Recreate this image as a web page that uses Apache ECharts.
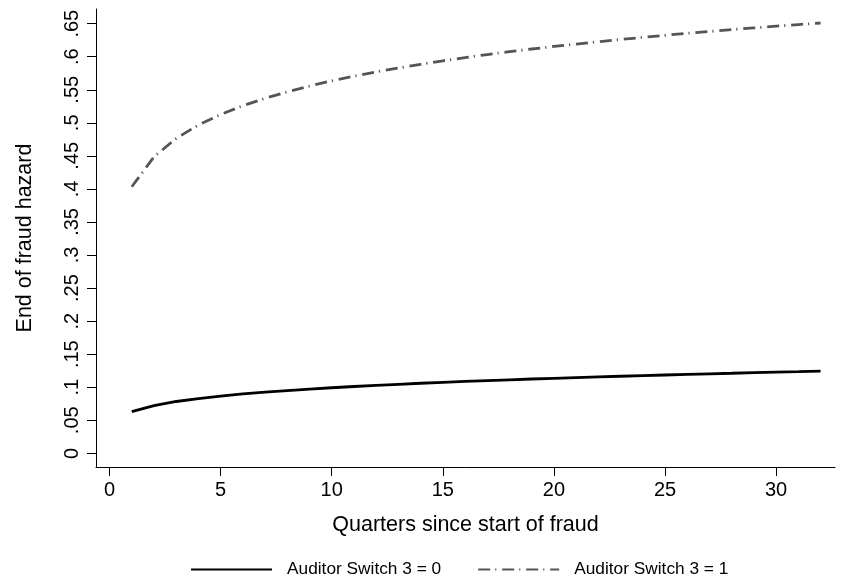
<!DOCTYPE html>
<html>
<head>
<meta charset="utf-8">
<script src="https://cdn.jsdelivr.net/npm/echarts@6/dist/echarts.min.js"></script>
<style>html,body{margin:0;padding:0;background:#fff}#c{width:842px;height:581px}</style>
</head>
<body>
<div id="c"></div>
<script>
const quarters = [1,2,3,4,5,6,7,8,9,10,11,12,13,14,15,16,17,18,19,20,21,22,23,24,25,26,27,28,29,30,31,32];
const switch0 = [0.0630,0.0723,0.0784,0.0829,0.0866,0.0898,0.0926,0.0950,0.0972,0.0992,0.1011,0.1028,0.1044,0.1060,0.1074,0.1087,0.1100,0.1112,0.1124,0.1135,0.1146,0.1156,0.1166,0.1176,0.1185,0.1194,0.1203,0.1211,0.1220,0.1228,0.1235,0.1243];
const switch1 = [0.4033,0.4486,0.4765,0.4967,0.5126,0.5259,0.5371,0.5469,0.5556,0.5635,0.5706,0.5771,0.5830,0.5886,0.5938,0.5987,0.6033,0.6076,0.6117,0.6155,0.6192,0.6227,0.6261,0.6293,0.6324,0.6354,0.6382,0.6410,0.6436,0.6462,0.6487,0.6510];
const yTicks = [0,0.05,0.1,0.15,0.2,0.25,0.3,0.35,0.4,0.45,0.5,0.55,0.6,0.65];
const yTickLabels = ['0','.05','.1','.15','.2','.25','.3','.35','.4','.45','.5','.55','.6','.65'];
const xTicks = [0,5,10,15,20,25,30];
const xTickLabels = ['0','5','10','15','20','25','30'];
const seriesNames = ['Auditor Switch 3 = 0','Auditor Switch 3 = 1'];

const font = 'Liberation Sans, Arial, Helvetica, sans-serif';
const chart = echarts.init(document.getElementById('c'));
function lookup(ticks, labels, v){
  for (let i=0;i<ticks.length;i++){ if (Math.abs(ticks[i]-v)<1e-6) return labels[i]; }
  return '';
}
chart.setOption({
  animation:false,
  backgroundColor:'#fff',
  grid:{left:96,right:7,top:9,bottom:114,containLabel:false,outerBoundsMode:'none'},
  xAxis:{
    type:'value', min:-0.61, max:32.65,
    name:'Quarters since start of fraud', nameLocation:'middle', nameGap:47,
    nameTextStyle:{fontFamily:font,fontSize:21.5,color:'#000'},
    splitLine:{show:false},
    axisLine:{show:true,onZero:false,lineStyle:{color:'#000',width:1}},
    axisTick:{show:true,length:9,customValues:xTicks,lineStyle:{color:'#000',width:1}},
    axisLabel:{customValues:xTicks,margin:13,fontFamily:font,fontSize:20,color:'#000',
      formatter:v=>lookup(xTicks,xTickLabels,v)}
  },
  yAxis:{
    type:'value', min:-0.0207, max:0.6722,
    name:'End of fraud hazard', nameLocation:'middle', nameGap:60,
    nameTextStyle:{fontFamily:font,fontSize:21.5,color:'#000'},
    splitLine:{show:false},
    axisLine:{show:true,onZero:false,lineStyle:{color:'#000',width:1}},
    axisTick:{show:true,length:9,customValues:yTicks,lineStyle:{color:'#000',width:1}},
    axisLabel:{customValues:yTicks,rotate:90,margin:14,fontFamily:font,fontSize:20,color:'#000',
      formatter:v=>lookup(yTicks,yTickLabels,v)}
  },
  legend:{
    left:190, top:561, padding:0, itemWidth:81, itemHeight:16, itemGap:36,
    itemStyle:{opacity:0},
    textStyle:{fontFamily:font,fontSize:17.3,color:'#000',padding:[0,0,0,10]},
    data:seriesNames
  },
  series:[
    {name:seriesNames[0],type:'line',symbol:'none',showSymbol:false,
     lineStyle:{color:'#000',width:2.8},itemStyle:{color:'#000'},
     data:quarters.map((q,i)=>[q,switch0[i]])},
    {name:seriesNames[1],type:'line',symbol:'none',showSymbol:false,
     lineStyle:{color:'#555',width:2.8,type:[12,5,1.2,5.8]},itemStyle:{color:'#555'},
     data:quarters.map((q,i)=>[q,switch1[i]])}
  ]
});
</script>
</body>
</html>
